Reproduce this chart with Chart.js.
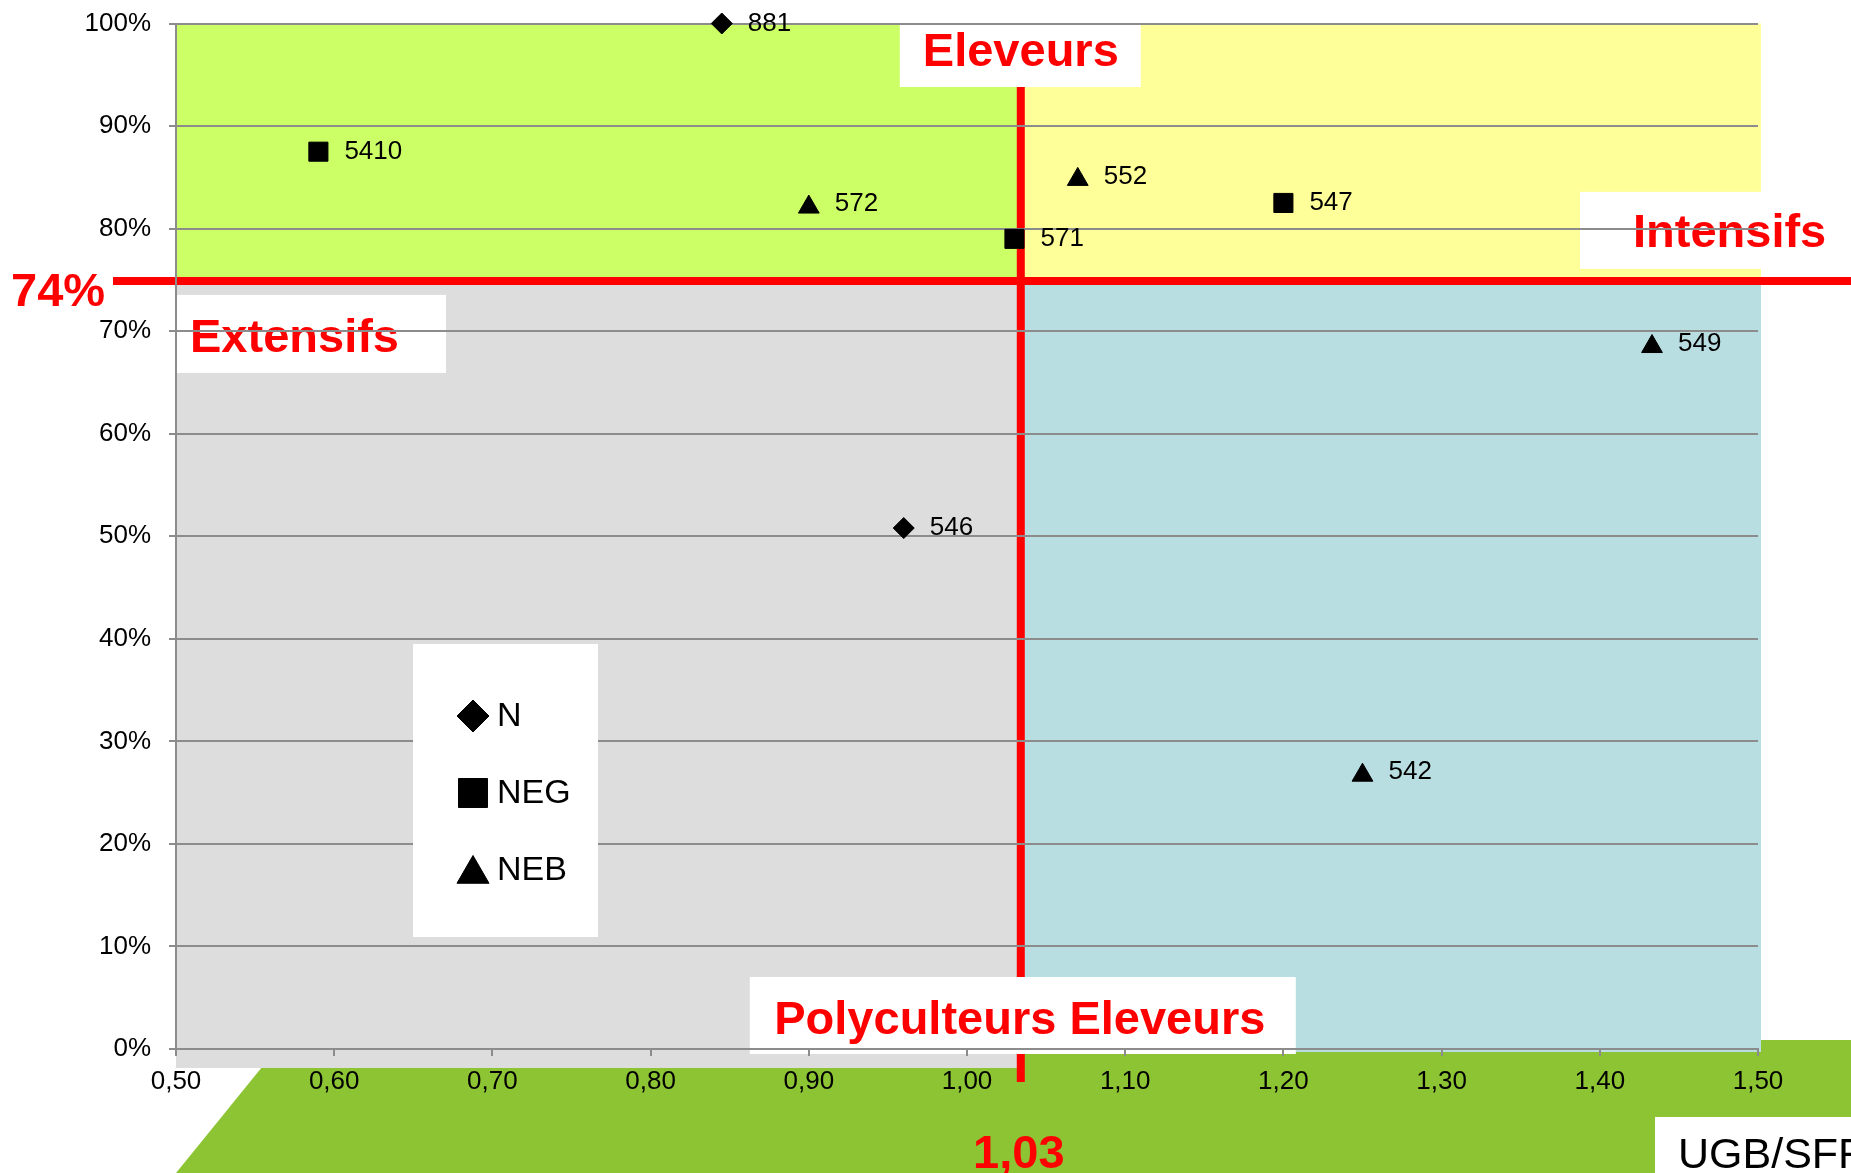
<!DOCTYPE html>
<html>
<head>
<meta charset="utf-8">
<title>Typologie UGB/SFF</title>
<script src="https://cdn.jsdelivr.net/npm/chart.js@4.4.0/dist/chart.umd.min.js"></script>
<style>
  html, body { margin: 0; padding: 0; background: #fff; }
  canvas { display: block; }
</style>
</head>
<body>
<canvas id="typo-chart" width="1851" height="1173"></canvas>
<script>
// Serie N (losanges)
var nIds = ['881', '546'];
var nX = [0.845, 0.960];
var nY = [1.00, 0.508];

// Serie NEG (carres)
var negIds = ['5410', '571', '547'];
var negX = [0.590, 1.030, 1.200];
var negY = [0.875, 0.790, 0.825];

// Serie NEB (triangles)
var nebIds = ['572', '552', '549', '542'];
var nebX = [0.900, 1.070, 1.433, 1.250];
var nebY = [0.821, 0.848, 0.685, 0.267];

// Seuils (lignes rouges)
var seuilX = 1.034;
var seuilY = 0.749;
var seuilXLabel = '1,03';
var seuilYLabel = '74%';

// Axes
var xMin = 0.5, xMax = 1.5, xStep = 0.1;
var yMin = 0, yMax = 1, yStep = 0.1;
var xTitle = 'UGB/SFF';

// Quadrants
var quadrantNames = ['Eleveurs', 'Intensifs', 'Extensifs', 'Polyculteurs Eleveurs'];

var FONT = '"Liberation Sans", Arial, sans-serif';

function toPoints(xs, ys) {
    var pts = [];
    for (var i = 0; i < xs.length; i++) {
        pts.push({x: xs[i], y: ys[i]});
    }
    return pts;
}

var pointIds = [nIds, negIds, nebIds];

// simple marker drawing (legend)
function drawMarker(ctx, style, r, x, y) {
    if (Chart.helpers && Chart.helpers.drawPoint) {
        Chart.helpers.drawPoint(ctx, {pointStyle: style, radius: r, rotation: 0, borderWidth: 1}, x, y);
        return;
    }
    ctx.beginPath();
    if (style === 'rect') {
        var s = r * Math.SQRT1_2;
        ctx.rect(x - s, y - s, 2 * s, 2 * s);
    } else if (style === 'rectRot') {
        ctx.moveTo(x - r, y); ctx.lineTo(x, y - r); ctx.lineTo(x + r, y); ctx.lineTo(x, y + r);
    } else {
        ctx.moveTo(x, y - r); ctx.lineTo(x + 0.866 * r, y + r / 2); ctx.lineTo(x - 0.866 * r, y + r / 2);
    }
    ctx.closePath();
    ctx.fill();
}

// fonds colores, lignes rouges et etiquettes des quadrants
var quadrantPlugin = {
    id: 'quadrants',
    beforeDraw: function(chart) {
        var ctx = chart.ctx, a = chart.chartArea;
        var cx = chart.scales.x.getPixelForValue(seuilX);
        var cy = chart.scales.y.getPixelForValue(seuilY);
        ctx.save();
        ctx.fillStyle = '#ffffff';
        ctx.fillRect(0, 0, chart.width, chart.height);

        // bande verte du bas
        ctx.fillStyle = '#8dc434';
        ctx.beginPath();
        ctx.moveTo(a.left, chart.height);
        ctx.lineTo(a.left + 108, a.bottom - 9);
        ctx.lineTo(chart.width, a.bottom - 9);
        ctx.lineTo(chart.width, chart.height);
        ctx.closePath();
        ctx.fill();

        ctx.fillStyle = '#ccff66';
        ctx.fillRect(a.left, a.top, cx - a.left, cy - a.top);
        ctx.fillStyle = '#ffff99';
        ctx.fillRect(cx, a.top, a.right + 3 - cx, cy - a.top);
        ctx.fillStyle = '#dddddd';
        ctx.fillRect(a.left, cy, cx - a.left, a.bottom + 19 - cy);
        ctx.fillStyle = '#b9dee2';
        ctx.fillRect(cx, cy, a.right + 3 - cx, a.bottom + 3 - cy);

        // lignes rouges
        ctx.strokeStyle = '#ff0000';
        ctx.lineWidth = 8;
        ctx.beginPath();
        ctx.moveTo(113, cy);
        ctx.lineTo(chart.width, cy);
        ctx.stroke();
        ctx.beginPath();
        ctx.moveTo(cx, a.top);
        ctx.lineTo(cx, a.bottom + 33);
        ctx.stroke();

        // cadres blancs
        ctx.fillStyle = '#ffffff';
        ctx.fillRect(cx - 121, a.top + 1.5, 241, 62);
        ctx.fillRect(a.right - 178, cy - 89, chart.width - (a.right - 178), 77);
        ctx.fillRect(a.left, cy + 14, 270, 78);
        ctx.fillRect(cx - 271, a.bottom - 72, 546, 77);

        ctx.fillStyle = '#ff0000';
        ctx.font = 'bold 47px ' + FONT;
        ctx.textBaseline = 'alphabetic';
        ctx.textAlign = 'center';
        ctx.fillText(quadrantNames[0], cx, a.top + 42.5);
        ctx.fillText(quadrantNames[3], cx - 1, a.bottom - 15);
        ctx.textAlign = 'left';
        ctx.fillText(quadrantNames[1], a.right - 125, cy - 34);
        ctx.fillText(quadrantNames[2], a.left + 14, cy + 71);
        ctx.restore();
    },
    afterDatasetsDraw: function(chart) {
        var ctx = chart.ctx;
        ctx.save();
        ctx.fillStyle = '#000000';
        ctx.font = '26px ' + FONT;
        ctx.textBaseline = 'middle';
        ctx.textAlign = 'left';
        chart.data.datasets.forEach(function(ds, d) {
            var meta = chart.getDatasetMeta(d);
            var dy = ds.pointStyle === 'triangle' ? -3 : 0;
            meta.data.forEach(function(el, i) {
                ctx.fillText(pointIds[d][i], el.x + 26, el.y + dy);
            });
        });
        ctx.restore();
    },
    afterDraw: function(chart) {
        var ctx = chart.ctx, a = chart.chartArea;
        var cx = chart.scales.x.getPixelForValue(seuilX);
        var cy = chart.scales.y.getPixelForValue(seuilY);
        ctx.save();

        // legende
        var lx = 413, ly = 644;
        ctx.fillStyle = '#ffffff';
        ctx.fillRect(lx, ly, 185, 293);
        var legendR = {rectRot: 16, rect: 20.5, triangle: 18.5};
        ctx.font = '34px ' + FONT;
        ctx.textBaseline = 'middle';
        ctx.textAlign = 'left';
        chart.data.datasets.forEach(function(ds, i) {
            var rowY = ly + 72 + i * 77;
            ctx.fillStyle = '#000000';
            ctx.strokeStyle = '#000000';
            drawMarker(ctx, ds.pointStyle, legendR[ds.pointStyle], lx + 60, ds.pointStyle === 'triangle' ? rowY + 4 : rowY);
            ctx.fillStyle = '#000000';
            ctx.fillText(ds.label, lx + 84, rowY + 1);
        });

        // valeurs des seuils
        ctx.fillStyle = '#ff0000';
        ctx.font = 'bold 47px ' + FONT;
        ctx.textBaseline = 'alphabetic';
        ctx.textAlign = 'left';
        ctx.fillText(seuilYLabel, 11, cy + 25);
        ctx.textAlign = 'center';
        ctx.fillText(seuilXLabel, cx - 2, chart.height - 5);

        // titre de l'axe X
        ctx.fillStyle = '#ffffff';
        ctx.fillRect(1655, 1117, chart.width - 1655, chart.height - 1117);
        ctx.fillStyle = '#000000';
        ctx.font = '43px ' + FONT;
        ctx.textAlign = 'left';
        ctx.fillText(xTitle, 1678, 1168);
        ctx.restore();
    }
};

var ctx = document.getElementById('typo-chart');

var chartData = {
    datasets: [{
        label: 'N',
        data: toPoints(nX, nY),
        pointStyle: 'rectRot',
        pointRadius: 10.5,
        backgroundColor: '#000000',
        borderColor: '#000000',
        borderWidth: 1,
        clip: false
    }, {
        label: 'NEG',
        data: toPoints(negX, negY),
        pointStyle: 'rect',
        pointRadius: 13.5,
        backgroundColor: '#000000',
        borderColor: '#000000',
        borderWidth: 1,
        clip: false
    }, {
        label: 'NEB',
        data: toPoints(nebX, nebY),
        pointStyle: 'triangle',
        pointRadius: 12,
        backgroundColor: '#000000',
        borderColor: '#000000',
        borderWidth: 1,
        clip: false
    }]
};

var gridColor = '#8c8c8c';

var chartOptions = {
    responsive: false,
    animation: false,
    events: [],
    layout: {
        padding: {top: 23.5, right: 93, bottom: 0, left: 0}
    },
    plugins: {
        legend: {display: false},
        tooltip: {enabled: false}
    },
    scales: {
        x: {
            type: 'linear',
            min: xMin,
            max: xMax,
            afterFit: function(scale) { scale.height = 124; },
            ticks: {
                stepSize: xStep,
                autoSkip: false,
                maxRotation: 0,
                padding: 10,
                color: '#000000',
                font: {family: FONT, size: 26},
                callback: function(v) { return v.toFixed(2).replace('.', ','); }
            },
            grid: {
                drawOnChartArea: false,
                drawTicks: true,
                tickLength: 7,
                color: gridColor,
                lineWidth: 2
            },
            border: {color: gridColor, width: 2}
        },
        y: {
            min: yMin,
            max: yMax,
            afterFit: function(scale) {
                scale.width = 176;
                // keep the plot top at the layout padding
                scale.paddingTop = 10;
                scale.paddingBottom = 10;
            },
            ticks: {
                stepSize: yStep,
                padding: 18,
                color: '#000000',
                font: {family: FONT, size: 26},
                callback: function(v) { return Math.round(v * 100) + '%'; }
            },
            grid: {
                tickLength: 7,
                color: gridColor,
                lineWidth: 2
            },
            border: {color: gridColor, width: 2}
        }
    }
};

var typoChart = new Chart(ctx, {
    type: 'scatter',
    data: chartData,
    options: chartOptions,
    plugins: [quadrantPlugin]
});
</script>
</body>
</html>
